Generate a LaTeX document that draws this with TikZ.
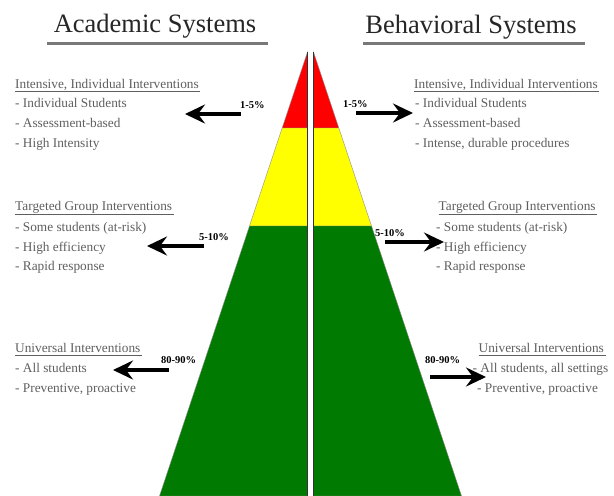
\documentclass[tikz,border=0pt]{standalone}
\usepackage{fontspec}
\setmainfont{Liberation Serif}
\usetikzlibrary{arrows.meta}
\definecolor{pyred}{RGB}{255,0,0}
\definecolor{pyyellow}{RGB}{255,255,0}
\definecolor{pygreen}{RGB}{0,122,0}
\definecolor{txtgray}{RGB}{95,95,95}
\definecolor{rulegray}{RGB}{120,120,120}
\begin{document}
\begin{tikzpicture}[x=1pt,y=-1pt,
  ttl/.style={font=\fontsize{26.5}{30}\selectfont, text=black!85, inner sep=0, anchor=base},
  txtline/.style={font=\fontsize{13.3}{16}\selectfont, text=txtgray, inner sep=0, anchor=base west},
  pct/.style={font=\fontsize{10.5}{12}\selectfont\bfseries, text=black, inner sep=0, anchor=base west},
  bigarrow/.style={line width=3.8pt, -{Stealth[length=20pt,width=19pt,inset=7pt]}},
  hrule/.style={draw=txtgray, line width=0.7pt},
  trule/.style={draw=rulegray, line width=3pt},
  band/.style={draw=black!45, line width=0.4pt},
  inner/.style={draw=black!80, line width=1.5pt}
]
\useasboundingbox[fill=white] (0,0) rectangle (614,496);

% ---------- pyramid coordinates ----------
\coordinate (LA) at (307.5,52);
\coordinate (L1o) at (282.2,128);  \coordinate (L1i) at (307.5,128);
\coordinate (L2o) at (249.5,226);  \coordinate (L2i) at (307.5,226);
\coordinate (L3o) at (159.5,496);  \coordinate (L3i) at (307.5,496);
\coordinate (RA) at (313.5,52);
\coordinate (R1o) at (338.8,128);  \coordinate (R1i) at (313.5,128);
\coordinate (R2o) at (371.5,226);  \coordinate (R2i) at (313.5,226);
\coordinate (R3o) at (461.5,496);  \coordinate (R3i) at (313.5,496);

% left half
\fill[pyred, band] (LA) -- (L1o) -- (L1i) -- cycle;
\fill[pyyellow, band] (L1i) -- (L1o) -- (L2o) -- (L2i) -- cycle;
\fill[pygreen, band] (L2i) -- (L2o) -- (L3o) -- (L3i) -- cycle;
\draw[inner] (LA) -- (L3i);
% right half
\fill[pyred, band] (RA) -- (R1o) -- (R1i) -- cycle;
\fill[pyyellow, band] (R1i) -- (R1o) -- (R2o) -- (R2i) -- cycle;
\fill[pygreen, band] (R2i) -- (R2o) -- (R3o) -- (R3i) -- cycle;
\draw[inner] (RA) -- (R3i);

% ---------- titles ----------
\node[ttl] (tA) at (155,32) {Academic Systems};
\node[ttl] (tB) at (471,33) {Behavioral Systems};
\coordinate (tAl) at (47,43);  \coordinate (tAr) at (268,43);
\coordinate (tBl) at (363,43); \coordinate (tBr) at (585,43);
\draw[trule] (tAl) -- (tAr);
\draw[trule] (tBl) -- (tBr);

% ---------- left texts ----------
\node[txtline] (a1h) at (15,88) {Intensive, Individual Interventions};
\node[txtline] (a1a) at (15,107.5) {- Individual Students};
\node[txtline] (a1b) at (15,127.5) {- Assessment-based};
\node[txtline] (a1c) at (15,147) {- High Intensity};

\node[txtline] (a2h) at (15,210.5) {Targeted Group Interventions};
\node[txtline] (a2a) at (15,231) {- Some students (at-risk)};
\node[txtline] (a2b) at (15,251) {- High efficiency};
\node[txtline] (a2c) at (15,270) {- Rapid response};

\node[txtline] (a3h) at (15,352) {Universal Interventions};
\node[txtline] (a3a) at (15,372) {- All students};
\node[txtline] (a3b) at (15,392) {- Preventive, proactive};

% ---------- right texts ----------
\node[txtline] (b1h) at (414,88) {Intensive, Individual Interventions};
\node[txtline] (b1a) at (415,107.5) {- Individual Students};
\node[txtline] (b1b) at (415,127.5) {- Assessment-based};
\node[txtline] (b1c) at (415,147) {- Intense, durable procedures};

\node[txtline] (b2h) at (438.5,210.5) {Targeted Group Interventions};
\node[txtline] (b2a) at (436,231) {- Some students (at-risk)};
\node[txtline] (b2b) at (436,251) {- High efficiency};
\node[txtline] (b2c) at (436,270) {- Rapid response};

\node[txtline] (b3h) at (478.5,352) {Universal Interventions};
\node[txtline] (b3a) at (472.5,372) {- All students, all settings};
\node[txtline] (b3b) at (477,392) {- Preventive, proactive};

% heading underlines
\foreach \h in {a1h,a2h,a3h,b1h,b2h,b3h}{
  \draw[hrule] ([yshift=-3.5pt]\h.base west) -- ([xshift=1.5pt,yshift=-3.5pt]\h.base east);
}

% ---------- percentages ----------
\node[pct] (pa1) at (240,108) {1-5\%};
\node[pct] (pa2) at (199,240) {5-10\%};
\node[pct] (pa3) at (161,363) {80-90\%};
\node[pct] (pb1) at (343,107) {1-5\%};
\node[pct] (pb2) at (375,236) {5-10\%};
\node[pct] (pb3) at (425,363) {80-90\%};

% ---------- arrows ----------
\coordinate (ra1) at (241,114); \coordinate (ha1) at (185,114);
\coordinate (ra2) at (204,246); \coordinate (ha2) at (147,246);
\coordinate (ra3) at (169,370); \coordinate (ha3) at (113,370);
\coordinate (rb1) at (356,113); \coordinate (hb1) at (413,113);
\coordinate (rb2) at (385,242); \coordinate (hb2) at (444,242);
\coordinate (rb3) at (430,377); \coordinate (hb3) at (486,377);
\draw[bigarrow] (ra1) -- (ha1);
\draw[bigarrow] (ra2) -- (ha2);
\draw[bigarrow] (ra3) -- (ha3);
\draw[bigarrow] (rb1) -- (hb1);
\draw[bigarrow] (rb2) -- (hb2);
\draw[bigarrow] (rb3) -- (hb3);
\end{tikzpicture}
\end{document}
